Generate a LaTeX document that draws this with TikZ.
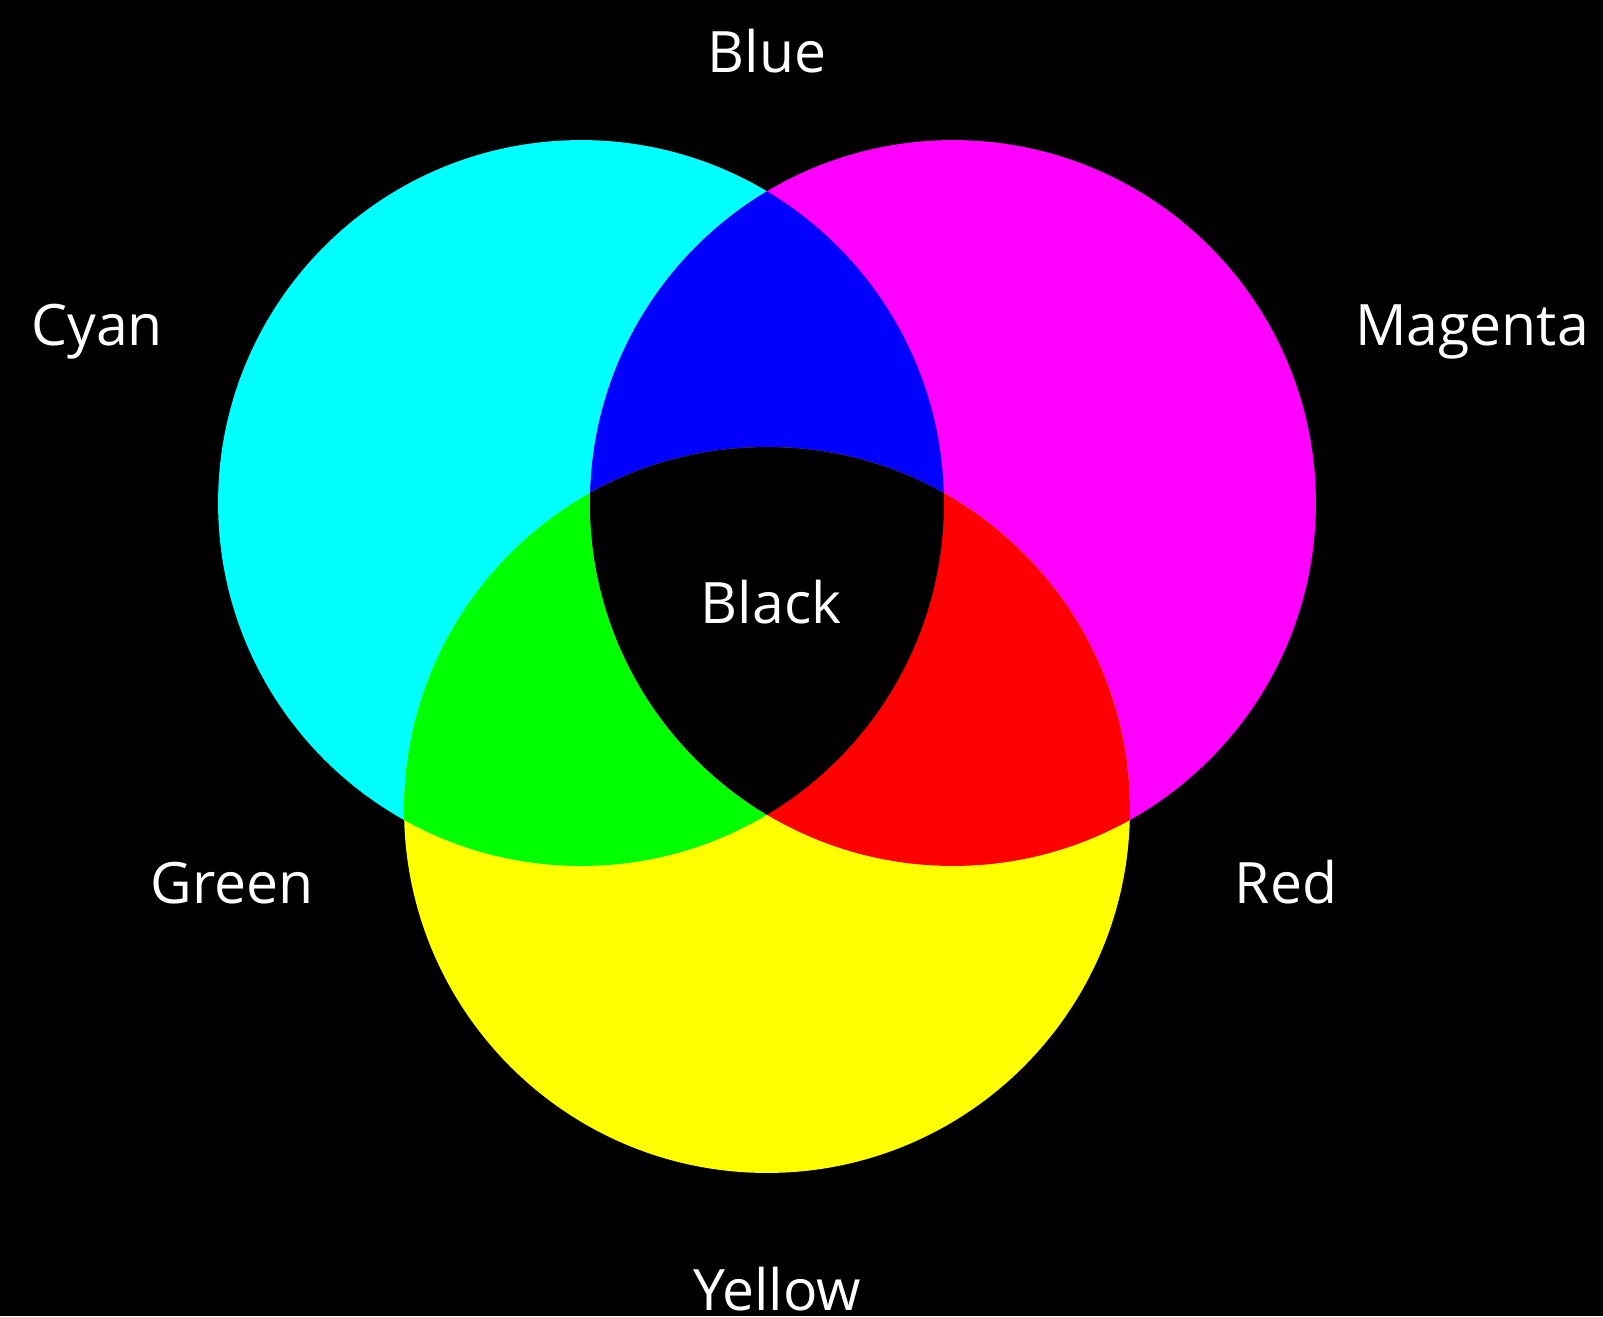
\documentclass[tikz,border=0pt]{standalone}
\usepackage{fontspec}
\setmainfont{Open Sans}
\usepackage{tikz}
\definecolor{pcyan}{RGB}{0,255,255}
\definecolor{pmagenta}{RGB}{255,0,255}
\definecolor{pyellow}{RGB}{255,255,0}
\definecolor{pblue}{RGB}{0,0,255}
\definecolor{pgreen}{RGB}{0,255,0}
\definecolor{pred}{RGB}{255,0,0}

\begin{document}
\begin{tikzpicture}[
  x=0.02cm, y=-0.02cm,
  font=\fontsize{32.5}{36}\selectfont,
  lbl/.style={text=white, anchor=base, inner sep=0pt},
  disc/.style={radius=7.26cm},
]
% ---------------- background ----------------
\fill[black] (0,0) rectangle (1603,1316);
\useasboundingbox (0,0) rectangle (1603,1316);
\coordinate (cc) at (581,503);   % cyan centre
\coordinate (cm) at (953,503);   % magenta centre
\coordinate (cy) at (767,810);   % yellow centre
% ---------------- the three primaries ----------------
\fill[pcyan]    (cc) circle[disc];
\fill[pmagenta] (cm) circle[disc];
\fill[pyellow]  (cy) circle[disc];
% ---------------- pairwise overlaps ----------------
\begin{scope}
  \clip (cc) circle[disc];
  \fill[pblue] (cm) circle[disc];
  \fill[pgreen] (cy) circle[disc];
\end{scope}
\begin{scope}
  \clip (cm) circle[disc];
  \fill[pred] (cy) circle[disc];
\end{scope}
% all three
\begin{scope}
  \clip (cc) circle[disc];
  \clip (cm) circle[disc];
  \fill[black] (cy) circle[disc];
\end{scope}
% ---------------- labels ----------------
\node[lbl] (blue)    at (767,72)   {Blue};
\node[lbl] (cyan)    at (97,345)   {Cyan};
\node[lbl] (magenta) at (1472,345) {Magenta};
\node[lbl] (black)   at (771,623)  {Black};
\node[lbl] (green)   at (232,903)  {Green};
\node[lbl] (red)     at (1286,903) {Red};
\node[lbl] (yellow)  at (777,1310) {Yellow};
\end{tikzpicture}
\end{document}
